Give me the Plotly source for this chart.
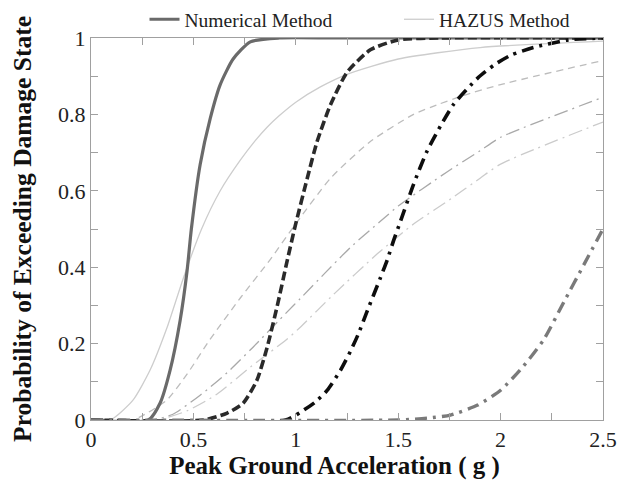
import plotly.graph_objects as go

# ---- Data ----
num_slight_x = [0, 0.28, 0.337, 0.386, 0.435, 0.469, 0.49, 0.533, 0.582, 0.631, 0.694, 0.778, 0.92, 1.2, 2.5]
num_slight_y = [0, 0, 0.044, 0.13, 0.26, 0.39, 0.50, 0.669, 0.789, 0.878, 0.945, 0.99, 1.0, 1.0, 1.0]

haz_slight_x = [0, 0.10, 0.205, 0.288, 0.37, 0.45, 0.54, 0.631, 0.729, 0.80, 0.861, 0.92, 1.0, 1.12, 1.25, 1.50, 1.90, 2.5]
haz_slight_y = [0, 0.002, 0.052, 0.13, 0.24, 0.37, 0.50, 0.60, 0.68, 0.73, 0.767, 0.797, 0.832, 0.872, 0.905, 0.945, 0.975, 0.992]

num_mod_x = [0, 0.55, 0.665, 0.743, 0.81, 0.86, 0.91, 0.958, 0.998, 1.056, 1.104, 1.17, 1.25, 1.364, 1.50, 1.70, 2.5]
num_mod_y = [0, 0, 0.018, 0.044, 0.104, 0.19, 0.30, 0.417, 0.51, 0.633, 0.729, 0.826, 0.91, 0.969, 0.995, 1.0, 1.0]

haz_mod_x = [0, 0.20, 0.24, 0.37, 0.469, 0.58, 0.73, 0.875, 0.988, 1.17, 1.364, 1.575, 1.70, 1.82, 2.0, 2.49]
haz_mod_y = [0, 0, 0.008, 0.052, 0.12, 0.21, 0.32, 0.42, 0.505, 0.633, 0.729, 0.80, 0.827, 0.85, 0.878, 0.94]

num_ext_x = [0, 0.95, 1.022, 1.095, 1.154, 1.218, 1.267, 1.306, 1.35, 1.413, 1.447, 1.477, 1.511, 1.575, 1.64, 1.707, 1.77, 1.888, 1.97, 2.05, 2.16, 2.33, 2.5]
num_ext_y = [0, 0, 0.02, 0.047, 0.078, 0.13, 0.18, 0.226, 0.287, 0.372, 0.42, 0.469, 0.52, 0.617, 0.703, 0.77, 0.826, 0.895, 0.93, 0.955, 0.975, 0.995, 1.0]

haz_ext_x = [0, 0.30, 0.40, 0.533, 0.665, 0.79, 0.958, 1.022, 1.267, 1.413, 1.50, 1.74, 1.90, 2.0, 2.5]
haz_ext_y = [0, 0, 0.015, 0.065, 0.124, 0.19, 0.283, 0.318, 0.452, 0.52, 0.56, 0.65, 0.705, 0.74, 0.845]

haz_comp_x = [0, 0.32, 0.469, 0.616, 0.777, 0.958, 1.022, 1.183, 1.398, 1.575, 1.76, 1.90, 2.0, 2.5]
haz_comp_y = [0, 0, 0.024, 0.068, 0.138, 0.212, 0.243, 0.328, 0.435, 0.513, 0.58, 0.633, 0.67, 0.78]

num_comp_x = [0, 1.50, 1.643, 1.755, 1.888, 2.0, 2.11, 2.21, 2.31, 2.41, 2.50]
num_comp_y = [0, 0, 0.005, 0.013, 0.039, 0.078, 0.14, 0.21, 0.31, 0.41, 0.50]

legend_names = ["Numerical Method", "HAZUS Method"]
x_title = "Peak Ground Acceleration ( g )"
y_title = "Probability of Exceeding Damage State"

FONT = "Liberation Serif, Times New Roman, serif"

fig = go.Figure()

def add(x, y, color, width, dash):
    fig.add_trace(go.Scatter(
        x=x, y=y, mode="lines", showlegend=False,
        line=dict(color=color, width=width, dash=dash, shape="spline", smoothing=0.6),
        hoverinfo="skip"))

# HAZUS (thin, light)
add(haz_slight_x, haz_slight_y, "#cdcdcd", 1.3, "solid")
add(haz_mod_x, haz_mod_y, "#bcbcbc", 1.3, "7px,5px")
add(haz_ext_x, haz_ext_y, "#a9a9a9", 1.3, "14px,5px,2px,5px")
add(haz_comp_x, haz_comp_y, "#cbcbcb", 1.3, "14px,5px,2px,5px")
# Numerical (thick, dark)
add(num_slight_x, num_slight_y, "#6a6a6a", 3.2, "solid")
add(num_mod_x, num_mod_y, "#2a2a2a", 3.6, "9px,4px")
add(num_ext_x, num_ext_y, "#0d0d0d", 3.6, "12px,6px,3px,6px")
add(num_comp_x, num_comp_y, "#7a7a7a", 3.4, "12px,6px,3px,6px")

# legend entries
fig.add_trace(go.Scatter(x=[None], y=[None], mode="lines", name=legend_names[0],
                         line=dict(color="#6a6a6a", width=3.2), showlegend=True, legend="legend"))
fig.add_trace(go.Scatter(x=[None], y=[None], mode="lines", name=legend_names[1],
                         line=dict(color="#cdcdcd", width=1.3), showlegend=True, legend="legend2"))

axis_common = dict(
    showline=True, linecolor="#a0a0a0", linewidth=1, mirror="ticks",
    ticks="inside", ticklen=7, tickcolor="#a0a0a0", tickwidth=1,
    showgrid=False, zeroline=False,
    tickfont=dict(family=FONT, size=22, color="#222"),
)

leg_common = dict(orientation="h", yref="paper", y=1 + 18.5 / 384, yanchor="middle",
                  xref="paper", xanchor="left",
                  font=dict(family=FONT, size=19.5, color="#222"),
                  bgcolor="rgba(0,0,0,0)")

fig.update_layout(
    width=628, height=481,
    # top margin is set by the legend itself (t=0 also removes the auto-margin padding)
    margin=dict(l=91, r=25, t=0, b=61),
    paper_bgcolor="white", plot_bgcolor="white",
    font=dict(family=FONT, color="#222"),
    xaxis=dict(range=[0, 2.5], dtick=0.5, tick0=0,
               minor=dict(dtick=0.25, ticks="inside", ticklen=7, tickcolor="#a0a0a0", showgrid=False),
               title=dict(text="<b>" + x_title + "</b>" + "&nbsp;" * 4,
                          font=dict(family=FONT, size=25, color="#111"), standoff=0),
               **axis_common),
    yaxis=dict(range=[0, 1], dtick=0.2, tick0=0,
               minor=dict(dtick=0.1, ticks="inside", ticklen=7, tickcolor="#a0a0a0", showgrid=False),
               title=dict(text="<b>" + y_title + "</b>", font=dict(family=FONT, size=25.5, color="#111"), standoff=19),
               **axis_common),
    legend=dict(x=(144.5 - 91) / 512, **leg_common),
    legend2=dict(x=(399 - 91) / 512, **leg_common),
)

fig.write_html("out.html")
